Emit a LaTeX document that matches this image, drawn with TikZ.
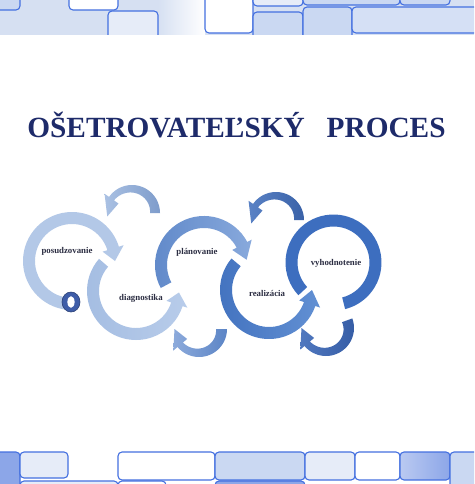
\documentclass[tikz,border=0pt]{standalone}
\usepackage{fontspec}
\setmainfont{Liberation Serif}
\definecolor{navy}{HTML}{1E2B6A}
\definecolor{lblc}{HTML}{2B2D42}
\definecolor{rA}{HTML}{B3C8E7}
\definecolor{rB}{HTML}{A4BDE2}
\definecolor{rBl}{HTML}{B8CCEA}
\definecolor{rC}{HTML}{5F88C9}
\definecolor{rCl}{HTML}{88A9DC}
\definecolor{rD}{HTML}{4272BF}
\definecolor{rDl}{HTML}{6290D3}
\definecolor{rE}{HTML}{3D6EBF}
\definecolor{aAh}{HTML}{AAC1E3}
\definecolor{aAt}{HTML}{7E9CCB}
\definecolor{aBh}{HTML}{8CAADB}
\definecolor{aBt}{HTML}{5C85C6}
\definecolor{aCh}{HTML}{5A82C5}
\definecolor{aCt}{HTML}{3A62A8}
\definecolor{aDh}{HTML}{5078BF}
\definecolor{aDt}{HTML}{365DA6}
\definecolor{oring}{HTML}{3E5DA8}
\definecolor{tileblue}{HTML}{4470E0}
\definecolor{hdrbg}{HTML}{D6E0F2}
\definecolor{tileA}{HTML}{CAD8F2}
\definecolor{tileB}{HTML}{E6ECF8}
\definecolor{tileC}{HTML}{8CA6E8}
\newcommand\ringarr[9]{%
  \begin{scope}[shift={(#1,#2)}]
    \path[#9] (#5:#4) arc[start angle=#5, end angle=#6, radius=#4]
      -- (#6:{#4+#8}) -- (#7:{(#3+#4)/2}) -- (#6:{#3-#8}) -- (#6:#3)
      arc[start angle=#6, end angle=#5, radius=#3] -- cycle;
  \end{scope}}
\newcommand\taperarr[9]{%
  \begin{scope}[shift={(#1,#2)}]
    \path[#9] plot[domain=#3:#4, samples=30, variable=\t] ({#6*cos(\t)},{#6*sin(\t)})
      -- (#4:{#6+5.5}) -- (#5:{(#6+#8)/2}) -- (#4:{#8-5.5})
      -- plot[domain=#4:#3, samples=30, variable=\t]
         ({(#8+(#7-#8)*(\t-#4)/(#3-#4))*cos(\t)},{(#8+(#7-#8)*(\t-#4)/(#3-#4))*sin(\t)})
      -- cycle;
  \end{scope}}
\tikzset{
  lbl/.style={font=\fontsize{8.8}{10}\selectfont\bfseries, text=lblc, inner sep=0pt},
  tile/.style={draw=tileblue, line width=1.1pt, rounded corners=4pt},
}
\begin{document}
\begin{tikzpicture}[x=1pt,y=-1pt]
\useasboundingbox (0,0) rectangle (474,484);
\fill[white] (0,0) rectangle (474,484);
% header
\begin{scope}
  \clip (0,0) rectangle (474,35);
  \fill[hdrbg] (0,0) rectangle (474,35);
  \shade[left color=hdrbg, right color=white] (158,0) rectangle (205,35);
  \path[tile, fill=tileA] (-6,-6) rectangle (20,10);
  \path[tile, fill=white] (69,-6) rectangle (118,10);
  \path[tile, fill=tileB] (108,11) rectangle (158,45);
  \path[tile, fill=white] (205,-6) rectangle (253,33);
  \path[tile, fill=tileB] (253,-6) rectangle (303,6);
  \path[tile, fill=tileA] (253,12) rectangle (303,45);
  \path[tile, fill=tileA] (303,-6) rectangle (400,5);
  \path[tile, fill=tileA] (400,-6) rectangle (450,5);
  \path[tile, fill=tileA] (303,7) rectangle (352,45);
  \path[tile, fill=tileA!80!white] (352,7) rectangle (485,33);
\end{scope}
% footer
\begin{scope}
  \clip (0,451) rectangle (474,484);
  \fill[white] (0,451) rectangle (474,484);
  \path[tile, fill=tileC] (-6,452) rectangle (20,495);
  \path[tile, fill=tileB] (20,452) rectangle (68,478);
  \path[tile, fill=tileB] (20,481) rectangle (118,495);
  \path[tile, fill=white] (118,452) rectangle (215,480);
  \path[tile, fill=white] (118,481) rectangle (166,495);
  \path[tile, fill=tileA] (215,452) rectangle (305,480);
  \path[tile, fill=tileC] (215,481) rectangle (305,495);
  \path[tile, fill=tileB] (305,452) rectangle (355,480);
  \path[tile, fill=white] (355,452) rectangle (400,480);
  \path[tile, left color=tileC!60!white, right color=tileC] (400,452) rectangle (450,480);
  \path[tile, fill=tileA] (450,452) rectangle (485,495);
\end{scope}
% title
\node[anchor=base, font=\fontsize{29.3}{32}\selectfont\bfseries, text=navy, inner sep=0pt]
  (title) at (236.5,137.3) {OŠETROVATEĽSKÝ\hspace{0.75em}PROCES};
% small curved arrows
\taperarr{132}{213}{360}{215}{172}{28}{18}{22}{left color=aAh, right color=aAt}
\taperarr{199}{329}{0}{140}{180}{28}{17}{21}{left color=aBh, right color=aBt}
\taperarr{276}{220}{360}{215}{172}{28}{18}{22}{left color=aCh, right color=aCt}
\taperarr{326}{328}{-20}{140}{180}{28}{17}{21}{left color=aDh, right color=aDt}
% rings
\ringarr{72}{261}{37}{49}{95}{343}{360}{5}{fill=rA}
\ringarr{136}{291}{37}{49}{221}{18}{2}{5}{left color=rB, right color=rBl}
\ringarr{204}{265}{37}{49}{152}{332}{353}{5}{left color=rC, right color=rCl}
\ringarr{269}{290}{37}{49}{220}{19}{0}{5}{left color=rD, right color=rDl}
\begin{scope}[shift={(333.5,262.5)}]
  \fill[rE] (137:48) arc[start angle=137, end angle=436, radius=48]
    -- (436:36) arc[start angle=436, end angle=137, radius=36] -- cycle;
\end{scope}
% the small O
\fill[oring, draw=oring!70!black, line width=0.6pt] (71,302) ellipse[x radius=9, y radius=10];
\fill[white] (71,302) ellipse[x radius=3.6, y radius=5.8];
% labels
\node[lbl] (posud) at (67,251) {posudzovanie};
\node[lbl] (diag) at (141,298) {diagnostika};
\node[lbl] (plan) at (197,252) {plánovanie};
\node[lbl] (real) at (267,293) {realizácia};
\node[lbl] (vyhod) at (336,263) {vyhodnotenie};
\end{tikzpicture}
\end{document}
